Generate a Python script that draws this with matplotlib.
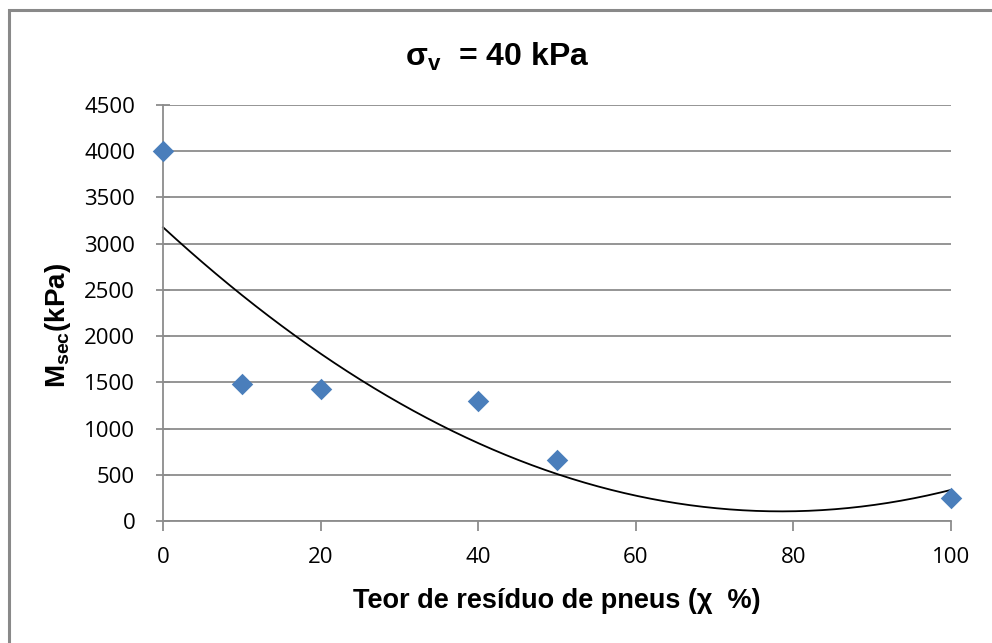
import numpy as np
import matplotlib
matplotlib.use("Agg")
import matplotlib.pyplot as plt
from matplotlib.patches import Rectangle

teor = [0, 10, 20, 40, 50, 100]
msec = [4000, 1480, 1430, 1300, 660, 250]
xticks = [0, 20, 40, 60, 80, 100]
yticks = [0, 500, 1000, 1500, 2000, 2500, 3000, 3500, 4000, 4500]

plt.rcParams['mathtext.fontset'] = 'custom'
plt.rcParams['mathtext.rm'] = 'Liberation Sans'
plt.rcParams['mathtext.bf'] = 'Liberation Sans:bold'
plt.rcParams['mathtext.it'] = 'Liberation Sans:italic'

W, H = 992, 643
fig = plt.figure(figsize=(W/100, H/100), dpi=100)
fig.patch.set_facecolor('white')
# outer border (top/left visible)
fig.add_artist(Rectangle((9/W, -0.05), 1.2, (H-10)/H + 0.05, transform=fig.transFigure,
                         fill=False, edgecolor='#898989', linewidth=2.2))

ax = fig.add_axes([163/W, 1-521/H, (951-163)/W, (521-105)/H])
ax.set_xlim(0, 100)
ax.set_ylim(0, 4500)
ax.set_xticks(xticks)
ax.set_yticks(yticks)
ax.yaxis.grid(True, color='#8c8c8c', linewidth=1.3)
ax.set_axisbelow(True)
for s in ['top', 'right']:
    ax.spines[s].set_visible(False)
for s in ['left', 'bottom']:
    ax.spines[s].set_color('#8c8c8c')
    ax.spines[s].set_linewidth(1.3)
ax.tick_params(axis='y', direction='inout', length=10, width=1.3, color='#8c8c8c', pad=15)
ax.tick_params(axis='x', direction='out', length=7, width=1.3, color='#8c8c8c', pad=12)
for lab in ax.get_xticklabels() + ax.get_yticklabels():
    lab.set_fontfamily('Open Sans')
    lab.set_fontsize(16)

# trend line (2nd order polynomial fit)
coef = np.polyfit(teor, msec, 2)
xs = np.linspace(0, 100, 300)
ax.plot(xs, np.polyval(coef, xs), color='black', linewidth=1.3, zorder=2, clip_on=False)

ax.scatter(teor, msec, marker='D', s=120, color='#4a7ebb', zorder=3, clip_on=False, linewidths=0)

fig.text(497/W, 1-57/H, r'$\mathbf{\sigma_v}$  = 40 kPa', ha='center', va='center',
         fontsize=23, fontweight='bold', family='Liberation Sans')
ax.set_ylabel(r'$\mathbf{M_{sec}}$(kPa)', fontsize=20, fontweight='bold', family='Liberation Sans')
ax.yaxis.set_label_coords(-90/788, 0.47)
ax.set_xlabel('Teor de resíduo de pneus (χ  %)', fontsize=19.5, fontweight='bold',
              family='Liberation Sans', labelpad=14)

fig.savefig('out.png', dpi=100)
